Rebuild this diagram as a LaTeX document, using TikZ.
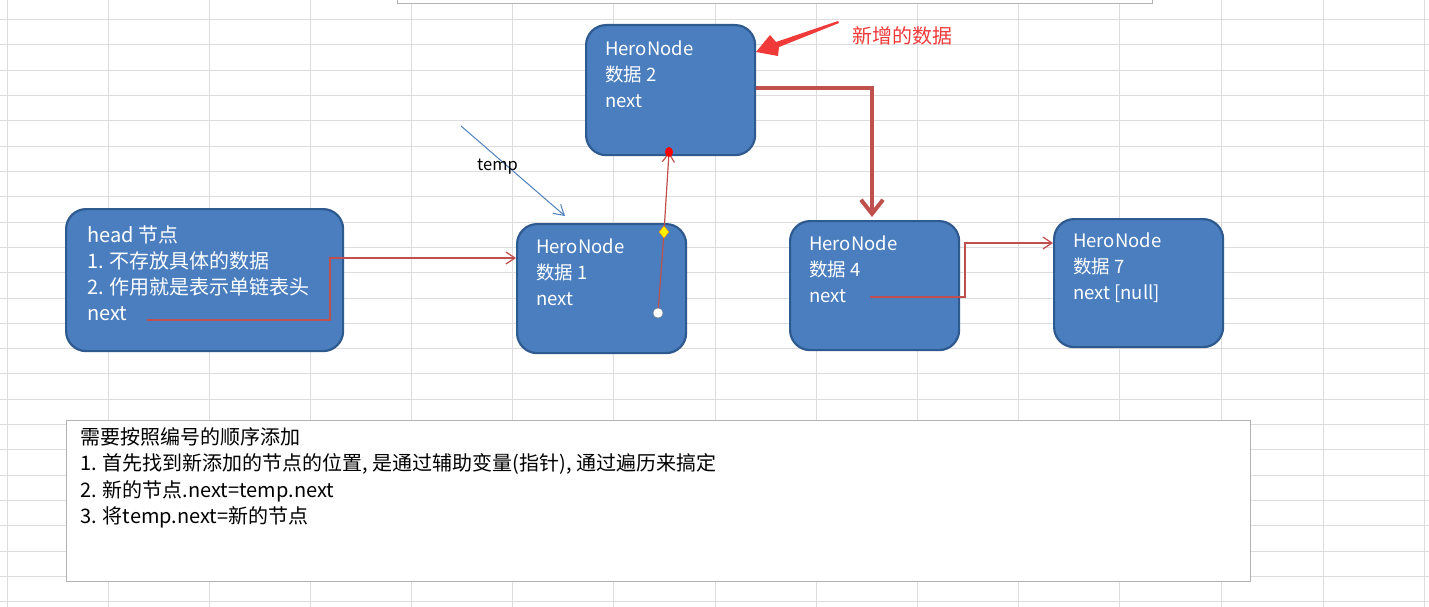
\documentclass[tikz,border=0pt]{standalone}
\usepackage{fontspec}
\setmainfont{Noto Sans CJK SC}
\usetikzlibrary{arrows.meta,calc}
\definecolor{nodefill}{HTML}{4A7EBF}
\definecolor{nodeedge}{HTML}{2F5A8F}
\definecolor{lnred}{HTML}{C0504D}
\definecolor{callred}{HTML}{F03A3A}
\definecolor{gridc}{HTML}{DDDDDD}
\definecolor{tempblue}{HTML}{4F81BD}
\tikzset{
  hbox/.style={draw=nodeedge,line width=2.2pt,fill=nodefill,rounded corners=20pt,anchor=north west,inner sep=0pt},
  htext/.style={anchor=north west,align=left,text=white,font=\fontsize{18.5}{26}\selectfont,inner sep=0pt},
  thin red/.style={draw=lnred,line width=1.2pt,-{Straight Barb[length=9pt,width=12pt]}},
}
\begin{document}
\begin{tikzpicture}[x=1pt,y=-1pt]
\useasboundingbox (0,0) rectangle (1429,607);
\fill[white] (0,0) rectangle (1429,607);
% grid
\foreach \gx in {7,108,209,310,411,512,613,715,816,917,1018,1119,1221,1323,1424}
  \draw[gridc,line width=1pt] (\gx,0) -- (\gx,607);
\foreach \k in {0,...,23}
  \draw[gridc,line width=1pt] (0,{19.7+25.3*\k}) -- (1429,{19.7+25.3*\k});
% top cropped box
\draw[gray!60,fill=white,line width=1pt] (397,-5) rectangle (1152,4);
% nodes
\node[hbox,minimum width=277pt,minimum height=142pt] (head) at (65,208) {};
\node[hbox,minimum width=169pt,minimum height=129pt] (n1) at (516,223) {};
\node[hbox,minimum width=169pt,minimum height=130pt] (n2) at (585,24) {};
\node[hbox,minimum width=169pt,minimum height=129pt] (n4) at (789,220) {};
\node[hbox,minimum width=169pt,minimum height=128pt] (n7) at (1053,218) {};
\node[htext,font=\fontsize{20}{26}\selectfont] (theadt) at (87,225) {head 节点\\1. 不存放具体的数据\\2. 作用就是表示单链表头\\next};
\node[htext] (tn1) at (536,239) {HeroNode\\数据 1\\next};
\node[htext] (tn2) at (605,41) {HeroNode\\数据 2\\next};
\node[htext] (tn4) at (809,236) {HeroNode\\数据 4\\next};
\node[htext] (tn7) at (1073,233) {HeroNode\\数据 7\\next [null]};
% coordinates
\coordinate (hs) at (147,320);
\coordinate (n1in) at (n1.west |- 0,258);
\coordinate (n1c) at (658,313);
\coordinate (n1d) at (664,232);
\coordinate (n2b) at (669,152);
\coordinate (n2r) at (n2.east |- 0,88);
\coordinate (n4top) at (872,217);
\coordinate (n4s) at (870,297);
\coordinate (n7in) at (n7.west |- 0,243);
\coordinate (tempa) at (461,126);
\coordinate (tempb) at (565,216);
\coordinate (calla) at (838,21);
\coordinate (callb) at (756,52);
% connectors
\draw[thin red] (hs) -- (330,320) -- (330,258) -- (n1in);
\draw[lnred,line width=1.2pt] (n1c) -- (n1d);
\draw[thin red] (n1d) -- (n2b);
\fill[red] (n2b) ellipse (4pt and 5pt);
\draw[fill=white,draw=gray] (n1c) circle (5pt);
\draw[fill=yellow,draw=orange] ($(n1d)+(0,-6)$) -- ($(n1d)+(5,0)$) -- ($(n1d)+(0,6)$) -- ($(n1d)+(-5,0)$) -- cycle;
\draw[lnred,line width=4pt,-{Straight Barb[length=14pt,width=22pt,line width=4pt]}] (n2r) -- (872,88) -- (n4top);
\draw[thin red] (n4s) -- (965,297) -- (965,243) -- (n7in);
\draw[tempblue,line width=1pt,-{Straight Barb[length=10pt,width=12pt]}] (tempa) -- (tempb);
\node[anchor=west,font=\fontsize{16.5}{18}\selectfont,inner sep=0pt] (templ) at (477,167) {temp};
\fill[callred] (calla) -- (776,42) -- (770,35) -- (callb) -- (778,56) -- (779,47) -- (839,23) -- cycle;
\node[anchor=west,text=callred,font=\fontsize{20}{20}\selectfont,inner sep=0pt] (calll) at (852,36) {新增的数据};
% bottom box
\node[draw=gray!60,line width=1pt,fill=white,anchor=north west,minimum width=1184pt,minimum height=161pt,inner sep=0pt] (note) at (66,420) {};
\node[anchor=north west,align=left,font=\fontsize{20}{26.5}\selectfont,inner sep=0pt] (notet) at (80,427) {需要按照编号的顺序添加\\1. 首先找到新添加的节点的位置, 是通过辅助变量(指针), 通过遍历来搞定\\2. 新的节点.next=temp.next\\3. 将temp.next=新的节点};
\end{tikzpicture}
\end{document}
